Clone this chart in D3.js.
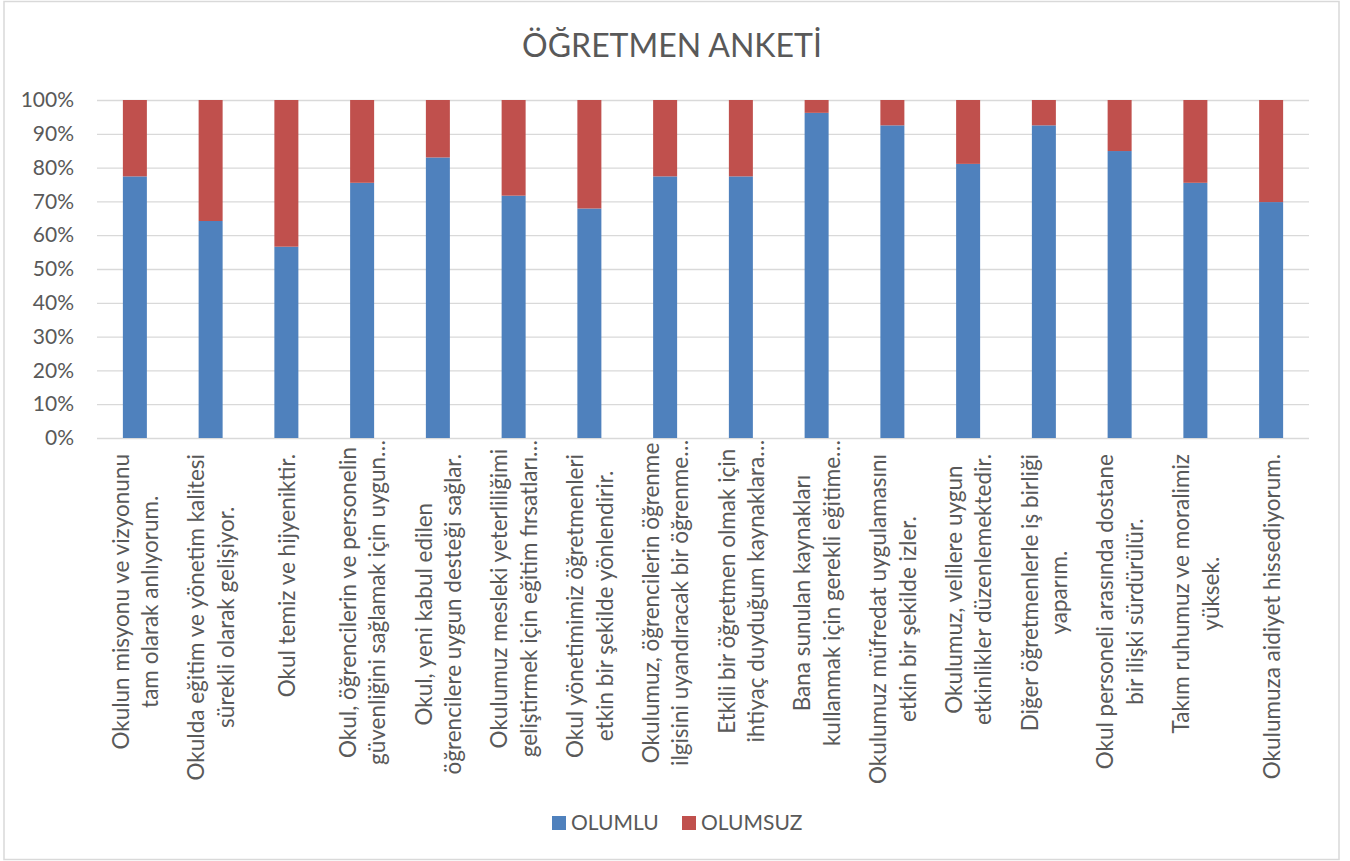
<!DOCTYPE html>
<meta charset="utf-8">
<script type="text/javascript" src="https://cdn.jsdelivr.net/npm/d3@7"></script>
<style>
  body { margin: 0; background: #fff; }
  text { font-family: Lato, "Noto Sans", sans-serif; fill: #595959; }
</style>
<body>
<script type="text/javascript">

// survey questions (tick labels, line breaks as in the picture)
var categories = [
    "Okulun misyonu ve vizyonunu\ntam olarak anlıyorum.",
    "Okulda eğitim ve yönetim kalitesi\nsürekli olarak gelişiyor.",
    "Okul temiz ve hijyeniktir.",
    "Okul, öğrencilerin ve personelin\ngüvenliğini sağlamak için uygun…",
    "Okul, yeni kabul edilen\nöğrencilere uygun desteği sağlar.",
    "Okulumuz mesleki yeterliliğimi\ngeliştirmek için eğitim fırsatları…",
    "Okul yönetimimiz öğretmenleri\netkin bir şekilde yönlendirir.",
    "Okulumuz, öğrencilerin öğrenme\nilgisini uyandıracak bir öğrenme…",
    "Etkili bir öğretmen olmak için\nihtiyaç duyduğum kaynaklara…",
    "Bana sunulan kaynakları\nkullanmak için gerekli eğitime…",
    "Okulumuz müfredat uygulamasını\netkin bir şekilde izler.",
    "Okulumuz, velilere uygun\netkinlikler düzenlemektedir.",
    "Diğer öğretmenlerle iş birliği\nyaparım.",
    "Okul personeli arasında dostane\nbir ilişki sürdürülür.",
    "Takım ruhumuz ve moralimiz\nyüksek.",
    "Okulumuza aidiyet hissediyorum."
];

// percent of answers
var olumlu   = [77.4, 64.2, 56.6, 75.5, 83.0, 71.7, 67.9, 77.4, 77.4, 96.2, 92.5, 81.1, 92.5, 84.9, 75.5, 69.8];
var olumsuz  = [22.6, 35.8, 43.4, 24.5, 17.0, 28.3, 32.1, 22.6, 22.6,  3.8,  7.5, 18.9,  7.5, 15.1, 24.5, 30.2];

var seriesNames = ["OLUMLU", "OLUMSUZ"];
var yTicks = [0, 10, 20, 30, 40, 50, 60, 70, 80, 90, 100];

var width = 1350, height = 861,
    plot = {left: 97, right: 1309, top: 100, bottom: 438},
    colors = {OLUMLU: "#4f81bd", OLUMSUZ: "#c0504d"},
    barWidth = 24,
    lineHeight = 29.5,
    labelSize = 22.5,
    smallSize = 21;

var svg = d3.select("body").append("svg")
    .attr("width", width)
    .attr("height", height);

// chart frame
svg.append("rect")
    .attr("x", 4).attr("y", 1.5)
    .attr("width", 1335).attr("height", 858)
    .attr("fill", "#fff")
    .attr("stroke", "#d9d9d9")
    .attr("stroke-width", 1.5);

// title
svg.append("text")
    .attr("x", 672).attr("y", 57)
    .attr("text-anchor", "middle")
    .style("font-size", "32px")
    .text("ÖĞRETMEN ANKETİ");

var x = d3.scaleBand()
    .domain(categories)
    .range([plot.left, plot.right])
    .padding(0);

var y = d3.scaleLinear()
    .domain([0, 100])
    .range([plot.bottom, plot.top]);

// gridlines + y labels
var yAxis = d3.axisLeft(y)
    .tickValues(yTicks)
    .tickSize(-(plot.right - plot.left))
    .tickPadding(23)
    .tickFormat(function(d){ return d + "%"; });

var gy = svg.append("g")
    .attr("transform", "translate(" + plot.left + ",0)")
    .call(yAxis);
gy.select(".domain").remove();
gy.selectAll(".tick line")
    .attr("stroke", "#d9d9d9")
    .attr("stroke-width", 1.3);
gy.selectAll(".tick text")
    .style("font-size", smallSize + "px")
    .style("font-family", "Lato, 'Noto Sans', sans-serif")
    .attr("fill", "#595959");

// stacked bars
var rows = categories.map(function(c, i){
    return {cat: c, OLUMLU: olumlu[i], OLUMSUZ: olumsuz[i]};
});
var stacked = d3.stack().keys(seriesNames)(rows);

svg.append("g").selectAll("g")
    .data(stacked)
    .enter().append("g")
        .attr("fill", function(d){ return colors[d.key]; })
    .selectAll("rect")
    .data(function(d){ return d; })
    .enter().append("rect")
        .attr("x", function(d){ return x(d.data.cat) + x.bandwidth()/2 - barWidth/2; })
        .attr("y", function(d){ return y(d[1]); })
        .attr("width", barWidth)
        .attr("height", function(d){ return y(d[0]) - y(d[1]); });

// category labels, rotated, lines centred on each other
var labels = svg.append("g").selectAll("text")
    .data(categories)
    .enter().append("text")
        .style("font-size", labelSize + "px")
        .attr("text-anchor", "middle");

labels.each(function(c){
    var t = d3.select(this),
        lines = c.split("\n"),
        cx = x(c) + x.bandwidth()/2;
    lines.forEach(function(l, i){
        t.append("tspan")
            .attr("x", 0)
            .attr("y", (i - (lines.length - 1)/2) * lineHeight)
            .attr("dominant-baseline", "central")
            .text(l);
    });
    var maxLen = d3.max(t.selectAll("tspan").nodes(), function(n){ return n.getComputedTextLength(); });
    var top = c.indexOf("…") >= 0 ? 440 : 454;
    t.attr("transform", "translate(" + cx + "," + (top + maxLen/2) + ") rotate(-90)");
});

// legend
var legend = svg.append("g").selectAll("g")
    .data(seriesNames)
    .enter().append("g")
        .attr("transform", function(d, i){ return "translate(" + (552 + i*130) + ",816)"; });
legend.append("rect")
    .attr("width", 14).attr("height", 14)
    .attr("fill", function(d){ return colors[d]; });
legend.append("text")
    .attr("x", 19).attr("y", 13.5)
    .style("font-size", smallSize + "px")
    .text(function(d){ return d; });

</script>
</body>
